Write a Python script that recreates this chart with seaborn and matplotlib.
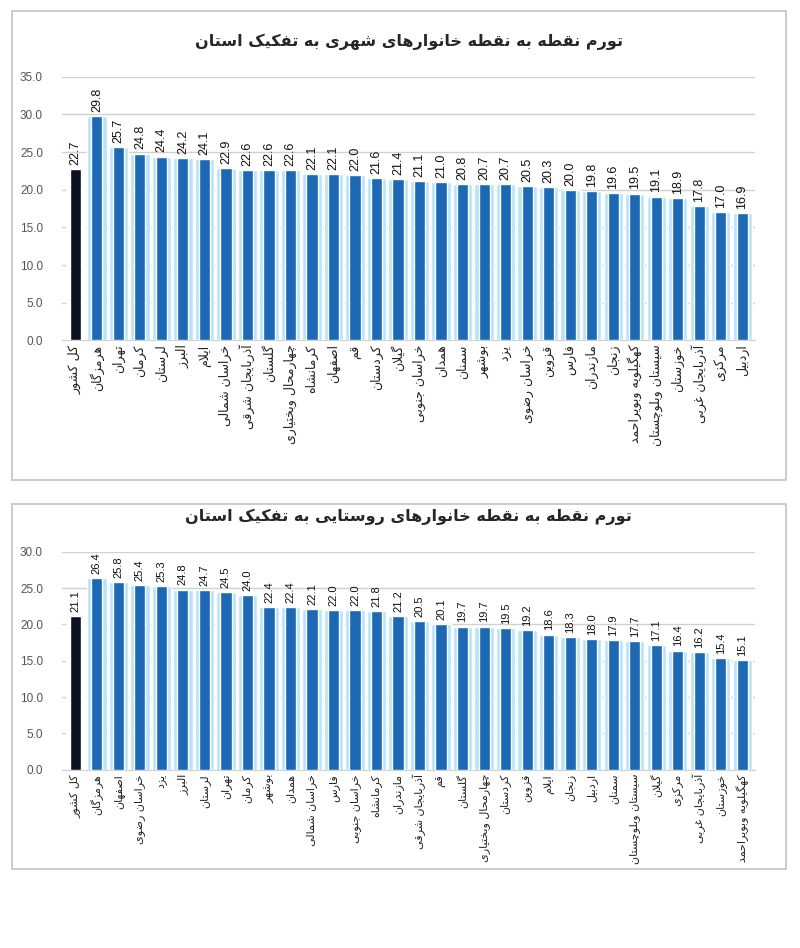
import matplotlib
matplotlib.use("Agg")
import matplotlib.pyplot as plt
import seaborn as sns
import pandas as pd
from matplotlib.patches import Rectangle

sns.set_style("white")
plt.rcParams['font.family'] = ['Liberation Sans', 'DejaVu Sans']

# urban households
urban_title = "تورم نقطه به نقطه خانوارهای شهری به تفکیک استان"
urban_labels = ["کل کشور", "هرمزگان", "تهران", "کرمان", "لرستان", "البرز", "ایلام",
                "خراسان شمالی", "آذربایجان شرقی", "گلستان", "چهارمحال وبختیاری", "کرمانشاه",
                "اصفهان", "قم", "کردستان", "گیلان", "خراسان جنوبی", "همدان", "سمنان", "بوشهر",
                "یزد", "خراسان رضوی", "قزوین", "فارس", "مازندران", "زنجان", "کهگیلویه وبویراحمد",
                "سیستان وبلوچستان", "خوزستان", "آذربایجان غربی", "مرکزی", "اردبیل"]
urban_values = [22.7, 29.8, 25.7, 24.8, 24.4, 24.2, 24.1, 22.9, 22.6, 22.6, 22.6, 22.1,
                22.1, 22.0, 21.6, 21.4, 21.1, 21.0, 20.8, 20.7, 20.7, 20.5, 20.3, 20.0,
                19.8, 19.6, 19.5, 19.1, 18.9, 17.8, 17.0, 16.9]

# rural households
rural_title = "تورم نقطه به نقطه خانوارهای روستایی به تفکیک استان"
rural_labels = ["کل کشور", "هرمزگان", "اصفهان", "خراسان رضوی", "یزد", "البرز", "لرستان",
                "تهران", "کرمان", "بوشهر", "همدان", "خراسان شمالی", "فارس", "خراسان جنوبی",
                "کرمانشاه", "مازندران", "آذربایجان شرقی", "قم", "گلستان", "چهارمحال وبختیاری",
                "کردستان", "قزوین", "ایلام", "زنجان", "اردبیل", "سمنان", "سیستان وبلوچستان",
                "گیلان", "مرکزی", "آذربایجان غربی", "خوزستان", "کهگیلویه وبویراحمد"]
rural_values = [21.1, 26.4, 25.8, 25.4, 25.3, 24.8, 24.7, 24.5, 24.0, 22.4, 22.4, 22.1,
                22.0, 22.0, 21.8, 21.2, 20.5, 20.1, 19.7, 19.7, 19.5, 19.2, 18.6, 18.3,
                18.0, 17.9, 17.7, 17.1, 16.4, 16.2, 15.4, 15.1]

# small persian shaper (matplotlib has no bidi / joining)
FORMS = {
    'ا': '\uFE8D\uFE8E', 'آ': '\uFE81\uFE82', 'د': '\uFEA9\uFEAA', 'ذ': '\uFEAB\uFEAC',
    'ر': '\uFEAD\uFEAE', 'ز': '\uFEAF\uFEB0', 'ژ': '\uFB8A\uFB8B', 'و': '\uFEED\uFEEE',
    'ب': '\uFE8F\uFE90\uFE91\uFE92', 'پ': '\uFB56\uFB57\uFB58\uFB59',
    'ت': '\uFE95\uFE96\uFE97\uFE98', 'ث': '\uFE99\uFE9A\uFE9B\uFE9C',
    'ج': '\uFE9D\uFE9E\uFE9F\uFEA0', 'چ': '\uFB7A\uFB7B\uFB7C\uFB7D',
    'ح': '\uFEA1\uFEA2\uFEA3\uFEA4', 'خ': '\uFEA5\uFEA6\uFEA7\uFEA8',
    'س': '\uFEB1\uFEB2\uFEB3\uFEB4', 'ش': '\uFEB5\uFEB6\uFEB7\uFEB8',
    'ص': '\uFEB9\uFEBA\uFEBB\uFEBC', 'ض': '\uFEBD\uFEBE\uFEBF\uFEC0',
    'ط': '\uFEC1\uFEC2\uFEC3\uFEC4', 'ظ': '\uFEC5\uFEC6\uFEC7\uFEC8',
    'ع': '\uFEC9\uFECA\uFECB\uFECC', 'غ': '\uFECD\uFECE\uFECF\uFED0',
    'ف': '\uFED1\uFED2\uFED3\uFED4', 'ق': '\uFED5\uFED6\uFED7\uFED8',
    'ک': '\uFB8E\uFB8F\uFB90\uFB91', 'گ': '\uFB92\uFB93\uFB94\uFB95',
    'ل': '\uFEDD\uFEDE\uFEDF\uFEE0', 'م': '\uFEE1\uFEE2\uFEE3\uFEE4',
    'ن': '\uFEE5\uFEE6\uFEE7\uFEE8', 'ه': '\uFEE9\uFEEA\uFEEB\uFEEC',
    'ی': '\uFBFC\uFBFD\uFBFE\uFBFF',
}


def fa(text):
    out = []
    i = 0
    while i < len(text):
        c = text[i]
        prev = text[i - 1] if i > 0 else ''
        nxt = text[i + 1] if i + 1 < len(text) else ''
        joins_prev = prev in FORMS and len(FORMS[prev]) == 4
        if c not in FORMS:
            out.append(c)
        elif c == 'ل' and nxt == 'ا':
            out.append('\uFEFC' if joins_prev else '\uFEFB')
            i += 1
        else:
            f = FORMS[c]
            joins_next = len(f) == 4 and nxt in FORMS
            if len(f) == 2:
                out.append(f[1] if joins_prev else f[0])
            elif joins_prev and joins_next:
                out.append(f[3])
            elif joins_prev:
                out.append(f[1])
            elif joins_next:
                out.append(f[2])
            else:
                out.append(f[0])
        i += 1
    return ''.join(reversed(out))


def draw(ax, labels, values, title, ymax, xfs, vfs):
    df = pd.DataFrame({"prov": [fa(s) for s in labels], "val": values})
    n = len(df)
    halo = ['#ffffff'] + ['#b8e4f8'] * (n - 1)
    main = ['#0a1220'] + ['#1c68b4'] * (n - 1)
    sns.barplot(data=df, x="prov", y="val", hue="prov", palette=halo, width=0.9,
                saturation=1, legend=False, ax=ax, zorder=2)
    sns.barplot(data=df, x="prov", y="val", hue="prov", palette=main, width=0.52,
                saturation=1, legend=False, ax=ax, zorder=3)
    for cont in ax.containers[n:]:
        ax.bar_label(cont, fmt='%.1f', rotation=90, padding=3, fontsize=vfs, color='#111111')
    ax.set_ylim(0, ymax)
    ax.set_yticks(range(0, ymax + 1, 5))
    ax.set_yticklabels([f"{t:.1f}" for t in range(0, ymax + 1, 5)], fontsize=8.5, color='#555555')
    ax.set_xlim(-0.6, n - 0.4)
    ax.tick_params(axis='x', length=0, pad=3)
    ax.tick_params(axis='y', length=0, pad=14)
    for t in ax.get_xticklabels():
        t.set_rotation(90)
        t.set_va('top')
        t.set_ha('center')
        t.set_fontsize(xfs)
        t.set_family(['DejaVu Sans'])
        t.set_color('#222222')
    ax.yaxis.grid(True, color='#d0d0d0', linewidth=1, zorder=0)
    ax.set_axisbelow(True)
    sns.despine(ax=ax, left=True, top=True, right=True, bottom=False)
    ax.spines['bottom'].set_color('#d0d0d0')
    ax.set_xlabel('')
    ax.set_ylabel('')
    ax.set_title(fa(title), fontsize=11.5, fontweight='bold', family=['DejaVu Sans'], pad=22)


fig = plt.figure(figsize=(8, 9.48), dpi=100)
fig.patches.append(Rectangle((0.015, 0.494), 0.968, 0.494, transform=fig.transFigure,
                             fill=False, edgecolor='#c4c4c4', linewidth=1.2))
fig.patches.append(Rectangle((0.015, 0.083), 0.968, 0.385, transform=fig.transFigure,
                             fill=False, edgecolor='#c4c4c4', linewidth=1.2))

ax1 = fig.add_axes([0.078, 0.641, 0.866, 0.278])
draw(ax1, urban_labels, urban_values, urban_title, 35, 9, 9)

ax2 = fig.add_axes([0.078, 0.188, 0.866, 0.230])
draw(ax2, rural_labels, rural_values, rural_title, 30, 8, 8)

fig.savefig("out.png", dpi=100)
